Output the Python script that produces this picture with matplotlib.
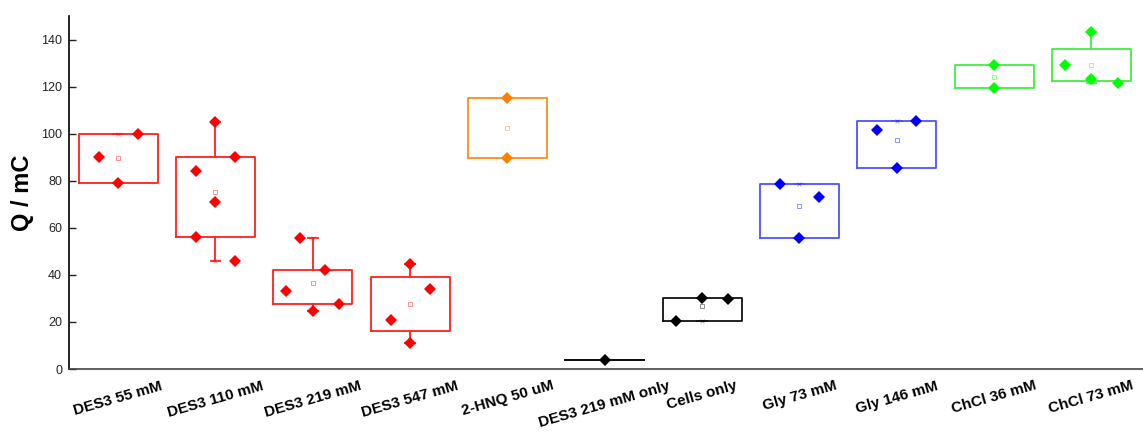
import matplotlib
matplotlib.use('Agg')
import matplotlib.pyplot as plt
import numpy as np

plt.rcParams['font.family'] = ['Liberation Sans', 'DejaVu Sans']

# groups on the x axis
groups = ['DES3 55 mM', 'DES3 110 mM', 'DES3 219 mM', 'DES3 547 mM', '2-HNQ 50 uM',
          'DES3 219 mM only', 'Cells only', 'Gly 73 mM', 'Gly 146 mM',
          'ChCl 36 mM', 'ChCl 73 mM']

# measured charge (mC) per replicate
q_des3_55 = [90, 79, 100]
q_des3_110 = [84, 105, 90, 71, 56, 46]
q_des3_219 = [33, 55.5, 24.5, 42, 27.5]
q_des3_547 = [21, 44.5, 11, 34]
q_hnq = [115, 89.5]
q_des3_only = [4]
q_cells = [20.5, 30, 29.7]
q_gly_73 = [78.8, 55.5, 73]
q_gly_146 = [101.5, 85.3, 105.3]
q_chcl_36 = [129, 119.3]
q_chcl_73 = [129, 143.2, 123.2, 121.6]

# box edges (25th / 75th percentile)
box_lo = [79, 56, 27.5, 16, 89.5, 4, 20.5, 55.5, 85.3, 119.3, 122.4]
box_hi = [100, 90, 42, 39.25, 115, 4, 30, 78.8, 105.3, 129, 136.1]

colors = ['#ff0000', '#ff0000', '#ff0000', '#ff0000', '#ff8000', '#000000',
          '#000000', '#0000ff', '#0000ff', '#00ff00', '#00ff00']
box_colors = ['#ff2020', '#ff2020', '#ff2020', '#ff2020', '#ff8c1a', '#111111',
              '#111111', '#5050ff', '#5050ff', '#40f040', '#40f040']

data = [q_des3_55, q_des3_110, q_des3_219, q_des3_547, q_hnq, q_des3_only,
        q_cells, q_gly_73, q_gly_146, q_chcl_36, q_chcl_73]

# horizontal spread of the replicate diamonds inside each box
spread = [[-0.2, 0, 0.2], [-0.2, 0, 0.2, 0, -0.2, 0.2],
          [-0.27, -0.13, 0, 0.13, 0.27], [-0.2, 0, 0, 0.2], [0, 0], [0],
          [-0.27, 0, 0.27], [-0.2, 0, 0.2], [-0.2, 0, 0.2], [0, 0],
          [-0.27, 0, 0, 0.27]]

fig = plt.figure(figsize=(11.43, 4.32), dpi=100)
ax = fig.add_axes([0.0604, 0.1458, 0.9396, 0.8172])

for i, vals in enumerate(data):
    c = colors[i]
    bc = box_colors[i]
    stats = [{'med': box_lo[i], 'q1': box_lo[i], 'q3': box_hi[i],
              'whislo': min(vals), 'whishi': max(vals),
              'mean': np.mean(vals), 'fliers': []}]
    ax.bxp(stats, positions=[i], widths=0.81, capwidths=0.1, showmeans=True,
           boxprops=dict(color=bc, linewidth=1.3),
           whiskerprops=dict(color=bc, linewidth=1.3),
           capprops=dict(color=bc, linewidth=1.3),
           medianprops=dict(linewidth=0),
           meanprops=dict(marker='s', markersize=3.5, markerfacecolor='none',
                          markeredgecolor=c, markeredgewidth=0.6, alpha=0.5))
    # min / max markers
    ax.plot([i, i], [min(vals), max(vals)], 'x', color=c, markersize=3.5,
            markeredgewidth=0.6, alpha=0.4, zorder=3)
    ax.plot(np.array(spread[i]) + i, vals, 'D', color=c, markersize=6,
            markeredgewidth=0, zorder=4)

ax.set_xlim(-0.504, 10.53)
ax.set_ylim(0, 150)
ax.set_yticks(np.arange(0, 141, 20))
ax.tick_params(axis='y', direction='in', length=5, width=1, labelsize=9, pad=5,
               colors='#222222')
ax.set_xticks(range(len(groups)))
ax.set_xticklabels(groups, rotation=16, fontweight='bold', fontsize=11)
ax.tick_params(axis='x', length=0, pad=7)
ax.set_ylabel('Q / mC', fontsize=17, fontweight='bold', labelpad=5)

ax.spines['top'].set_visible(False)
ax.spines['right'].set_visible(False)
ax.spines['left'].set_linewidth(1.2)
ax.spines['bottom'].set_linewidth(1.2)
ax.spines['bottom'].set_color('#444444')

fig.savefig('out.png', dpi=100)
